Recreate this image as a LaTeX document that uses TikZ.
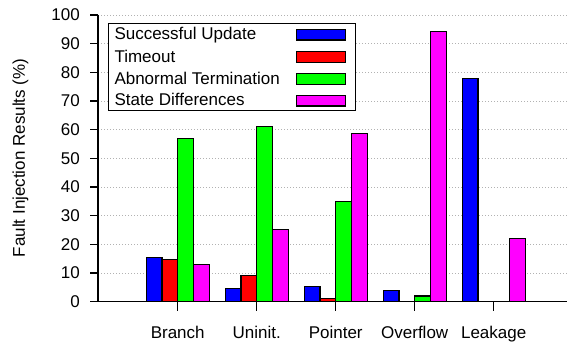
\documentclass[tikz,border=0pt]{standalone}
\usepackage{fontspec}
\setmainfont{Liberation Sans}
\usepackage{tikz}
\usetikzlibrary{positioning}

\definecolor{gpblue}{RGB}{0,0,255}
\definecolor{gpred}{RGB}{255,0,0}
\definecolor{gpgreen}{RGB}{0,255,0}
\definecolor{gpmagenta}{RGB}{255,0,255}

\tikzset{
  bar/.style={draw=black, line width=1.1pt},
  gridline/.style={gray!60, dash pattern=on 1pt off 2pt, line width=0.8pt},
  axisline/.style={black, line width=1.4pt},
  lbl/.style={font=\fontsize{17}{20}\selectfont, inner sep=0pt}
}

\begin{document}
\begin{tikzpicture}[x=1pt, y=1pt]
    \useasboundingbox (-98,-41.3) rectangle (469,301.7);

    % Horizontal grid (one line every 10%)
    \foreach \v in {10,20,...,100}
        \draw[gridline] (0,\v*2.867) -- (469,\v*2.867);

    % Legend box (covers the grid)
    \draw[fill=white, line width=1pt] (10.3,190.7) rectangle (257.7,278.4);
    \node[lbl, anchor=base west] (lupd) at (16.3,261.7) {Successful Update};
    \node[lbl, anchor=base west] (ltmo) at (16.3,239.4) {Timeout};
    \node[lbl, anchor=base west] (labn) at (16.3,217.4) {Abnormal Termination};
    \node[lbl, anchor=base west] (lsta) at (16.3,195.7) {State Differences};
    \draw[bar, fill=gpblue]    (198.7,261.7) rectangle (247.7,272.4);
    \draw[bar, fill=gpred]     (198.7,239.4) rectangle (247.7,250.1);
    \draw[bar, fill=gpgreen]   (198.7,217.4) rectangle (247.7,228.1);
    \draw[bar, fill=gpmagenta] (198.7,195.7) rectangle (247.7,206.4);

    % Bars: group g centred at 79.7+79*(g-1), bar width 15.7
    \foreach \g/\v in {1/15.3,2/4.5,3/5.2,4/3.8,5/77.8}
        \draw[bar, fill=gpblue] ({48.3+79*(\g-1)},0) rectangle ++(15.7,\v*2.867);
    \foreach \g/\v in {1/14.7,2/9,3/1.2}
        \draw[bar, fill=gpred] ({64+79*(\g-1)},0) rectangle ++(15.7,\v*2.867);
    \foreach \g/\v in {1/57,2/61.2,3/35,4/2}
        \draw[bar, fill=gpgreen] ({79.7+79*(\g-1)},0) rectangle ++(15.7,\v*2.867);
    \foreach \g/\v in {1/13,2/25.2,3/58.6,4/94.3,5/22.1}
        \draw[bar, fill=gpmagenta] ({95.4+79*(\g-1)},0) rectangle ++(15.7,\v*2.867);

    % Axes
    \draw[axisline] (0,286.7) -- (0,0) -- (469,0);

    % Y ticks and labels
    \foreach \v in {0,10,...,100} {
        \draw[axisline] (-8,\v*2.867) -- (0,\v*2.867);
        \node[lbl, anchor=east] (y\v) at (-18,\v*2.867) {\v};
    }

    % X ticks and category labels
    \foreach \g/\name in {1/Branch,2/Uninit.,3/Pointer,4/Overflow,5/Leakage} {
        \draw[axisline] ({79.7+79*(\g-1)},0) -- ++(0,-9);
        \node[lbl, anchor=base] (x\g) at ({79.7+79*(\g-1)},-36.8) {\name};
    }

    % Y axis title
    \node[lbl, anchor=base, rotate=90] (ytitle) at (-73,143.7) {Fault Injection Results (\%)};
\end{tikzpicture}
\end{document}
